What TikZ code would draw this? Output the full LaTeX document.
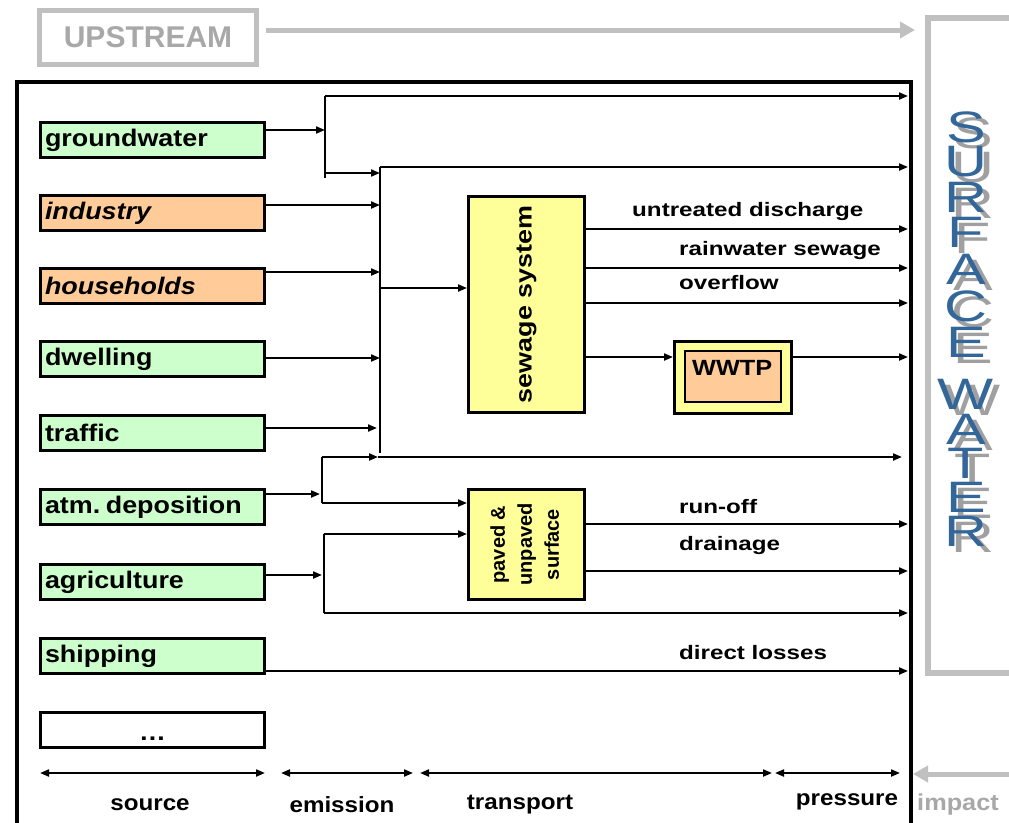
\documentclass[tikz,border=0pt]{standalone}
\usepackage{fontspec}
\setmainfont{Liberation Sans}
\usetikzlibrary{arrows.meta}
\definecolor{grn}{HTML}{CCFFCC}
\definecolor{org}{HTML}{FFCC99}
\definecolor{yel}{HTML}{FFFF99}
\definecolor{gry}{HTML}{C0C0C0}
\definecolor{gtx}{HTML}{A8A8A8}
\definecolor{sblue}{HTML}{336699}
\definecolor{shd}{HTML}{A0A0A0}
\newcommand\txa[1]{\fontsize{24}{26}\selectfont\bfseries\scalebox{1.12}[1]{#1}}
\newcommand\txb[1]{\fontsize{19.5}{22}\selectfont\bfseries\scalebox{1.24}[1]{#1}}
\newcommand\txd[1]{\fontsize{22}{24}\selectfont\bfseries\scalebox{1.1}[1]{#1}}
\newcommand\shletter[1]{\rlap{\hspace{7pt}\raisebox{-6pt}{\textcolor{shd}{\scalebox{1.35}[1]{#1}}}}\textcolor{sblue}{\scalebox{1.35}[1]{#1}}}
\begin{document}
\begin{tikzpicture}[x=1pt,y=-1pt,
  src/.style={draw=black,line width=3pt,minimum width=224pt,minimum height=35pt,
    inner sep=0pt,text width=215pt,align=left},
  proc/.style={draw=black,line width=3pt,fill=yel,inner sep=0pt},
  ln/.style={line width=2pt},
  flow/.style={line width=2pt,-{Triangle[length=9pt,width=7pt]}},
  dbl/.style={line width=2pt,{Triangle[length=9pt,width=7pt]}-{Triangle[length=9pt,width=7pt]}},
  garrow/.style={draw=gry,line width=5pt,-{Triangle[length=15pt,width=16pt]}},
  lbl/.style={inner sep=0pt,anchor=west},
  btm/.style={inner sep=0pt},
  lettxt/.style={inner sep=0pt,font=\fontsize{44}{44}\selectfont}]
\useasboundingbox (0,0) rectangle (1009,822);
\fill[white] (0,0) rectangle (1009,822);
\clip (0,0) rectangle (1009,822);

% upstream
\node[draw=gry,line width=5pt,minimum width=217pt,minimum height=54pt,inner sep=0pt,
  text=gtx,font=\fontsize{30}{32}\selectfont\bfseries] (up) at (148,37.5) {UPSTREAM};
\coordinate (upend) at (915,30);
\draw[garrow] (up.east |- upend) ++(7,0) -- (upend);

% surface water frame
\draw[gry,line width=6pt] (1015,18) -- (928,18) -- (928,673) -- (1015,673);
\foreach \ch/\yy [count=\i] in {S/130,U/165,R/200,F/235,A/272,C/309,E/345,W/397,A/432,T/466,E/500,R/534}{
  \node[lettxt] (sl\i) at (966,\yy) {\shletter{\ch}};
}

% impact
\coordinate (imps) at (1015,774);
\coordinate (impe) at (913,774);
\draw[garrow] (imps) -- (impe);
\node[btm,text=gtx,font=\fontsize{23}{25}\selectfont\bfseries] (imp) at (958,805) {\scalebox{1.1}[1]{impact}};

% outer frame
\draw[line width=4pt] (16.5,830) -- (16.5,82) -- (910.5,82) -- (910.5,830);

% sources
\node[src,fill=grn] (gw)  at (152.5,140) {\txa{groundwater}};
\node[src,fill=org] (ind) at (152.5,213) {\txa{\itshape industry}};
\node[src,fill=org] (hh)  at (152.5,286) {\txa{\itshape households}};
\node[src,fill=grn] (dw)  at (152.5,359) {\txa{dwelling}};
\node[src,fill=grn] (tr)  at (152.5,433) {\txa{traffic}};
\node[src,fill=grn] (atm) at (152.5,507) {\txa{atm. deposition}};
\node[src,fill=grn] (agr) at (152.5,582) {\txa{agriculture}};
\node[src,fill=grn] (shp) at (152.5,656) {\txa{shipping}};
\node[src,fill=white,text width=224pt,align=center] (etc) at (152.5,730) {\raisebox{-10pt}[0pt][0pt]{\txa{\dots}}};

% processes
\node[proc,minimum width=116pt,minimum height=216pt] (sew) at (526.5,304.5)
  {\rotatebox{90}{\fontsize{23}{25}\selectfont\bfseries\scalebox{1.17}[1]{sewage system}}};
\node[proc,minimum width=116pt,minimum height=110pt] (pav) at (526.5,544.5)
  {\rotatebox{90}{\fontsize{20}{27}\selectfont\bfseries\begin{tabular}{@{}c@{}}paved \&\\unpaved\\surface\end{tabular}}};
\node[proc,minimum width=117pt,minimum height=72pt] (wwtp) at (733,377.5) {};
\node[draw=black,line width=1.5pt,fill=org,minimum width=96pt,minimum height=51pt,inner sep=0pt] (wwin) at (733,376.5) {};
\node[lbl] (wwt) at (692,368) {\fontsize{22}{24}\selectfont\bfseries\scalebox{1.15}[1]{WWTP}};

% bus coordinates
\coordinate (rx) at (908,0);
\coordinate (b1t) at (325,96);
\coordinate (b1b) at (325,178);
\coordinate (b1g) at (325,130);
\coordinate (b1o) at (325,173);
\coordinate (b2t) at (380,167);
\coordinate (b2b) at (380,453);
\coordinate (b2s) at (380,288);
\coordinate (b2i) at (380,205);
\coordinate (b2h) at (380,272);
\coordinate (b2d) at (380,358);
\coordinate (b2r) at (377,428);
\coordinate (b3t) at (322,457);
\coordinate (b3b) at (322,503);
\coordinate (b3a) at (320,494);
\coordinate (m3) at (378,457);
\coordinate (e3) at (902,457);
\coordinate (b4t) at (324,534);
\coordinate (b4b) at (324,613);
\coordinate (b4a) at (322,575);
\coordinate (s1) at (908,229);
\coordinate (s2) at (908,268);
\coordinate (s3) at (908,303);
\coordinate (s4) at (908,357);
\coordinate (p1) at (908,524);
\coordinate (p2) at (908,571);
\coordinate (sh) at (908,671);

% upper connectors
\draw[ln] (b1t) -- (b1b);
\draw[flow] (gw.east |- b1g) -- (b1g);
\draw[flow] (b1t) -- (rx |- b1t);
\draw[flow] (b1o) -- (b2t |- b1o);
\draw[ln] (b2t) -- (b2b);
\draw[flow] (b2t) -- (rx |- b2t);
\draw[flow] (ind.east |- b2i) -- (b2i);
\draw[flow] (hh.east |- b2h) -- (b2h);
\draw[flow] (dw.east |- b2d) -- (b2d);
\draw[flow] (tr.east |- b2r) -- (b2r);
\draw[flow] (b2s) -- (sew.west |- b2s);
\draw[flow] (sew.east |- s1) -- (s1);
\draw[flow] (sew.east |- s2) -- (s2);
\draw[flow] (sew.east |- s3) -- (s3);
\draw[flow] (sew.east |- s4) -- (wwtp.west |- s4);
\draw[flow] (wwtp.east |- s4) -- (s4);

% lower connectors
\draw[ln] (b3t) -- (b3b);
\draw[flow] (atm.east |- b3a) -- (b3a);
\draw[flow] (b3t) -- (m3);
\draw[flow] (m3) -- (e3);
\draw[flow] (b3b) -- (pav.west |- b3b);
\draw[ln] (b4t) -- (b4b);
\draw[flow] (agr.east |- b4a) -- (b4a);
\draw[flow] (b4t) -- (pav.west |- b4t);
\draw[flow] (b4b) -- (rx |- b4b);
\draw[flow] (pav.east |- p1) -- (p1);
\draw[flow] (pav.east |- p2) -- (p2);
\draw[flow] (shp.east |- sh) -- (sh);

% flow labels
\node[lbl] (lun) at (632,211) {\txb{untreated discharge}};
\node[lbl] (lrw) at (679,250) {\txb{rainwater sewage}};
\node[lbl] (lov) at (679,283) {\txb{overflow}};
\node[lbl] (lro) at (679,507) {\txb{run-off}};
\node[lbl] (ldr) at (679,545) {\txb{drainage}};
\node[lbl] (ldl) at (679,653) {\txb{direct losses}};

% bottom scale
\coordinate (a1) at (40,773);  \coordinate (a2) at (265,773);
\coordinate (a3) at (281,773); \coordinate (a4) at (413,773);
\coordinate (a5) at (420,773); \coordinate (a6) at (772,773);
\coordinate (a7) at (775,773); \coordinate (a8) at (900,773);
\draw[dbl] (a1) -- (a2);
\draw[dbl] (a3) -- (a4);
\draw[dbl] (a5) -- (a6);
\draw[dbl] (a7) -- (a8);
\node[btm] (lsrc) at (150,805) {\txd{source}};
\node[btm] (lem)  at (342,805) {\txd{emission}};
\node[btm] (ltr)  at (520,805) {\txd{transport}};
\node[btm] (lpr)  at (847,802) {\txd{pressure}};
\end{tikzpicture}
\end{document}
